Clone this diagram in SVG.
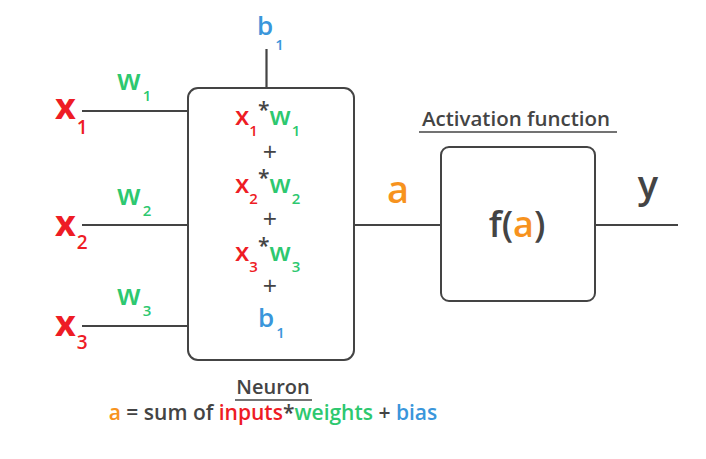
<svg xmlns="http://www.w3.org/2000/svg" width="706" height="459" viewBox="0 0 706 459">
<style>
text{font-family:"Open Sans","Noto Sans","Liberation Sans",sans-serif;fill:#444}
.r{fill:#ee1c25}.g{fill:#2dc86f}.b{fill:#3a96db}.o{fill:#f7931e}
.xl{font-size:36px;font-weight:700}
.xs{font-size:19px;font-weight:600}
.wl{font-size:29px;font-weight:600}
.bx{font-size:26px;font-weight:600}
.sub{font-size:15px;font-weight:600}
.pl{font-size:25px}
.box{fill:#fff;stroke:#444;stroke-width:2}
.ln{stroke:#444;stroke-width:2.2;fill:none}
</style>
<g id="connectors">
<line class="ln" x1="82" y1="111" x2="188" y2="111"/>
<line class="ln" x1="82" y1="225" x2="188" y2="225"/>
<line class="ln" x1="82" y1="326" x2="188" y2="326"/>
<line class="ln" x1="266.5" y1="49" x2="266.5" y2="88"/>
<line class="ln" x1="354" y1="225" x2="441" y2="225"/>
<line class="ln" x1="595" y1="225" x2="678" y2="225"/>
</g>
<g id="x1"><text x="55" y="119" class="xl r">x<tspan class="xs r" dx="1" dy="15">1</tspan></text></g>
<g id="x2"><text x="55" y="236" class="xl r">x<tspan class="xs r" dx="1" dy="13">2</tspan></text></g>
<g id="x3"><text x="55" y="336" class="xl r">x<tspan class="xs r" dx="1" dy="13">3</tspan></text></g>
<g id="w1"><text x="117" y="90" class="wl g">w<tspan class="sub g" dx="2" dy="11">1</tspan></text></g>
<g id="w2"><text x="117" y="205" class="wl g">w<tspan class="sub g" dx="2" dy="11">2</tspan></text></g>
<g id="w3"><text x="117" y="305" class="wl g">w<tspan class="sub g" dx="2" dy="11">3</tspan></text></g>
<g id="bias"><text x="257" y="35" font-size="26" font-weight="600" class="b">b<tspan class="sub b" dx="2" dy="15">1</tspan></text></g>
<g id="neuron">
<rect class="box" x="188" y="88" width="166" height="272" rx="10"/>
<text x="235" y="125" class="bx r">x<tspan class="sub r" dy="11">1</tspan><tspan dy="-19" font-size="21" font-weight="600" fill="#444">*</tspan><tspan class="g" dy="8">w</tspan><tspan class="sub g" dx="1" dy="11">1</tspan></text>
<text x="270" y="161" class="pl" text-anchor="middle">+</text>
<text x="235" y="193" class="bx r">x<tspan class="sub r" dy="11">2</tspan><tspan dy="-19" font-size="21" font-weight="600" fill="#444">*</tspan><tspan class="g" dy="8">w</tspan><tspan class="sub g" dx="1" dy="11">2</tspan></text>
<text x="270" y="228" class="pl" text-anchor="middle">+</text>
<text x="235" y="261" class="bx r">x<tspan class="sub r" dy="11">3</tspan><tspan dy="-19" font-size="21" font-weight="600" fill="#444">*</tspan><tspan class="g" dy="8">w</tspan><tspan class="sub g" dx="1" dy="11">3</tspan></text>
<text x="270" y="295" class="pl" text-anchor="middle">+</text>
<text x="258" y="327" font-size="26" font-weight="600" class="b">b<tspan class="sub b" dx="2" dy="11">1</tspan></text>
</g>
<g id="neuron-label">
<text x="273" y="394" font-size="20" font-weight="600" text-anchor="middle">Neuron</text>
<line x1="235" y1="400" x2="312" y2="400" stroke="#444" stroke-width="1.5"/>
<text x="273" y="420" font-size="21" font-weight="600" text-anchor="middle"><tspan class="o">a</tspan> = sum of <tspan class="r">inputs</tspan>*<tspan class="g">weights</tspan> + <tspan class="b">bias</tspan></text>
</g>
<g id="a-label"><text x="398" y="203" font-size="38" font-weight="600" class="o" text-anchor="middle">a</text></g>
<g id="activation">
<text x="516" y="126" font-size="20.5" font-weight="600" text-anchor="middle">Activation function</text>
<line x1="419" y1="132" x2="617" y2="132" stroke="#444" stroke-width="1.5"/>
<rect class="box" x="441" y="147" width="154" height="154" rx="8"/>
<text x="517" y="237" font-size="36" font-weight="600" text-anchor="middle">f(<tspan class="o">a</tspan>)</text>
</g>
<g id="y-label"><text x="648" y="198" font-size="38" font-weight="600" text-anchor="middle">y</text></g>
</svg>
